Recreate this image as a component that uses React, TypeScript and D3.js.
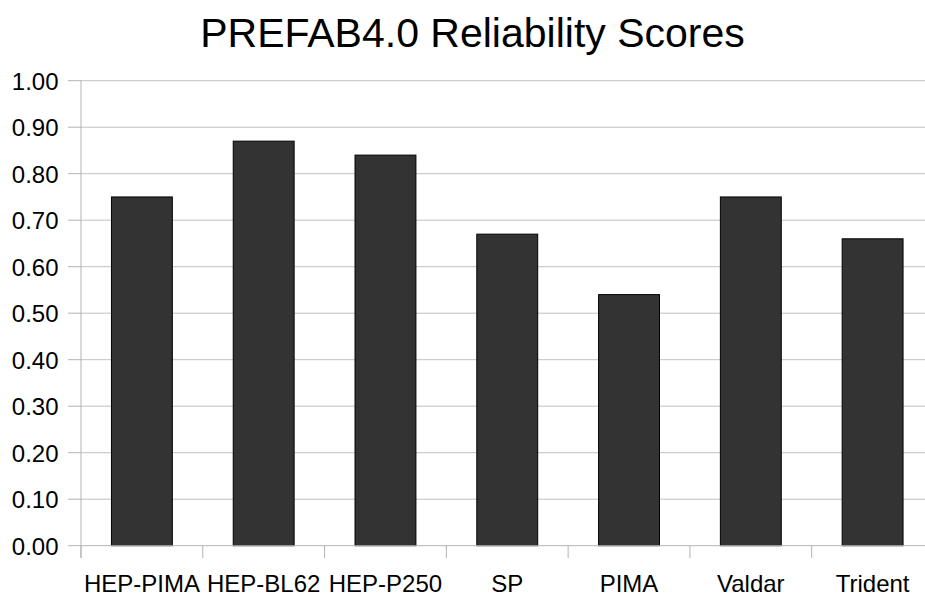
import React from "react";
import * as d3 from "d3";

const categories = ["HEP-PIMA", "HEP-BL62", "HEP-P250", "SP", "PIMA", "Valdar", "Trident"];
const values = [0.75, 0.87, 0.84, 0.67, 0.54, 0.75, 0.66];
const yTicks = [0, 0.1, 0.2, 0.3, 0.4, 0.5, 0.6, 0.7, 0.8, 0.9, 1.0];
const title = "PREFAB4.0 Reliability Scores";

const W = 925;
const H = 595;
const left = 81;
const right = 933.5;
const top = 80.7;
const bottom = 545.7;

export default function App() {
  const x = d3.scaleBand<string>().domain(categories).range([left, right]).paddingInner(0).paddingOuter(0);
  const y = d3.scaleLinear().domain([0, 1]).range([bottom, top]);
  const bw = x.bandwidth();
  const barW = bw * 0.5;
  const font = "'Liberation Sans', Arial, sans-serif";
  const boundaries = categories.map((c) => x(c) as number).concat([right]);

  return (
    <svg
      width={W}
      height={H}
      style={{ position: "absolute", left: 0, top: 0, background: "#fff" }}
      fontFamily={font}
    >
      <rect x={0} y={0} width={W} height={H} fill="#ffffff" />
      <text x={472.5} y={46.5} textAnchor="middle" fontSize={41} fill="#000">
        {title}
      </text>
      {yTicks.map((t) => (
        <g key={t}>
          {t > 0 && (
            <line x1={left} x2={right} y1={y(t)} y2={y(t)} stroke="#c0c0c0" strokeWidth={1} />
          )}
          <line x1={68} x2={left} y1={y(t)} y2={y(t)} stroke="#b3b3b3" strokeWidth={1} />
          <text x={58.5} y={y(t) + 9} textAnchor="end" fontSize={24} fill="#000">
            {d3.format(".2f")(t)}
          </text>
        </g>
      ))}
      {categories.map((c, i) => {
        const cx = (x(c) as number) + bw / 2;
        return (
          <rect
            key={c}
            x={cx - barW / 2}
            y={y(values[i])}
            width={barW}
            height={bottom - y(values[i])}
            fill="#333333"
            stroke="#000"
            strokeWidth={1}
          />
        );
      })}
      <line x1={left} x2={right} y1={bottom} y2={bottom} stroke="#b3b3b3" strokeWidth={1} />
      <line x1={left} x2={left} y1={top} y2={558} stroke="#b3b3b3" strokeWidth={1} />
      {boundaries.map((b, i) => (
        <line key={i} x1={b} x2={b} y1={bottom} y2={558} stroke="#b3b3b3" strokeWidth={1} />
      ))}
      {categories.map((c) => (
        <text
          key={c}
          x={(x(c) as number) + bw / 2}
          y={591.5}
          textAnchor="middle"
          fontSize={24}
          fill="#000"
        >
          {c}
        </text>
      ))}
    </svg>
  );
}
